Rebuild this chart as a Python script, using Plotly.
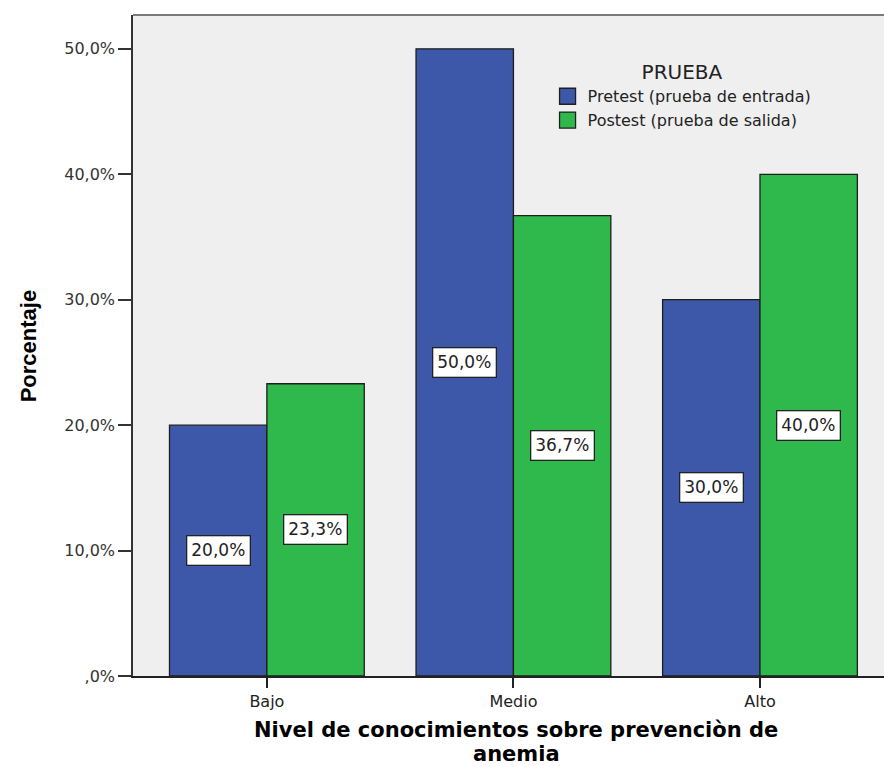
import plotly.graph_objects as go

# Knowledge level categories and percentages per test
categories = ["Bajo", "Medio", "Alto"]
pretest = [20.0, 50.0, 30.0]
postest = [23.3, 36.7, 40.0]
series_names = ["Pretest (prueba de entrada)", "Postest (prueba de salida)"]
legend_title = "PRUEBA"

y_tick_values = [0, 10, 20, 30, 40, 50]
y_tick_labels = [",0%", "10,0%", "20,0%", "30,0%", "40,0%", "50,0%"]

x_title_lines = ["Nivel de conocimientos sobre prevenciòn de", "anemia"]
y_title = "Porcentaje"

BLUE = "#3D57A9"
GREEN = "#2FB84B"
OUTLINE = "#1e1e1e"
TEXT = "#222222"
BAR_GAP = 0.21

fig = go.Figure()
for name, vals, color in [(series_names[0], pretest, BLUE), (series_names[1], postest, GREEN)]:
    fig.add_trace(go.Bar(
        x=categories, y=vals, name=name, legendgroup=name, showlegend=False,
        marker=dict(color=color, line=dict(color=OUTLINE, width=1.3)),
        hoverinfo="skip",
    ))
    # legend entry with a larger square swatch
    fig.add_trace(go.Scatter(
        x=[None], y=[None], mode="markers", name=name, legendgroup=name,
        marker=dict(symbol="square", size=16, color=color,
                    line=dict(color=OUTLINE, width=1.3)),
        hoverinfo="skip",
    ))

# value labels in white boxes at the middle of each bar
half = (1 - BAR_GAP) / 4
for series, shift in [(pretest, -half), (postest, half)]:
    for i, v in enumerate(series):
        fig.add_annotation(
            x=i + shift, y=v / 2, xref="x", yref="y",
            text=f"{v:.1f}%".replace(".", ","),
            showarrow=False,
            font=dict(family="DejaVu Sans", size=17, color=TEXT),
            bgcolor="white", bordercolor="#222222", borderwidth=1.3, borderpad=4,
        )

# axis titles
fig.add_annotation(
    x=-0.158, y=0.5, xref="paper", yref="paper",
    text=f"<b>{y_title}</b>", textangle=-90, showarrow=False,
    font=dict(family="Liberation Sans", size=22, color="black"),
)
fig.add_annotation(
    x=0.51, y=-0.0815, xref="paper", yref="paper", yanchor="middle",
    text=f"<b>{x_title_lines[0]}</b>", showarrow=False,
    font=dict(family="DejaVu Sans", size=21, color="black"),
)
fig.add_annotation(
    x=0.51, y=-0.1175, xref="paper", yref="paper", yanchor="middle",
    text=f"<b>{x_title_lines[1]}</b>", showarrow=False,
    font=dict(family="DejaVu Sans", size=21, color="black"),
)

# top frame line
fig.add_shape(type="line", xref="paper", yref="paper", x0=0, x1=1, y0=1, y1=1,
              line=dict(color="#7a7a7a", width=2))

fig.update_layout(
    width=884, height=767,
    margin=dict(l=133, r=0, t=15, b=91),
    paper_bgcolor="white",
    plot_bgcolor="#EFEFEF",
    barmode="group", bargap=BAR_GAP, bargroupgap=0,
    showlegend=True,
    legend=dict(
        title=dict(text=legend_title, side="top center",
                   font=dict(family="DejaVu Sans", size=20, color=TEXT)),
        x=0.552, y=0.942, xanchor="left", yanchor="top",
        bgcolor="rgba(0,0,0,0)",
        font=dict(family="DejaVu Sans", size=16, color=TEXT),
        tracegroupgap=0, itemwidth=30, itemclick=False, itemdoubleclick=False,
    ),
    xaxis=dict(
        type="category", range=[-0.543, 2.503],
        showline=True, linecolor="#222222", linewidth=1.5,
        ticks="outside", ticklen=10, tickwidth=1.5, tickcolor="#222222",
        tickfont=dict(family="DejaVu Sans", size=16, color=TEXT),
        showgrid=False, zeroline=False,
    ),
    yaxis=dict(
        range=[0, 52.7],
        tickvals=y_tick_values, ticktext=y_tick_labels,
        showline=True, linecolor="#333333", linewidth=1.5,
        ticks="outside", ticklen=13, tickwidth=1.5, tickcolor="#333333",
        tickfont=dict(family="DejaVu Sans", size=16, color="#333333"),
        showgrid=False, zeroline=False,
    ),
)

fig.write_html("out.html")
